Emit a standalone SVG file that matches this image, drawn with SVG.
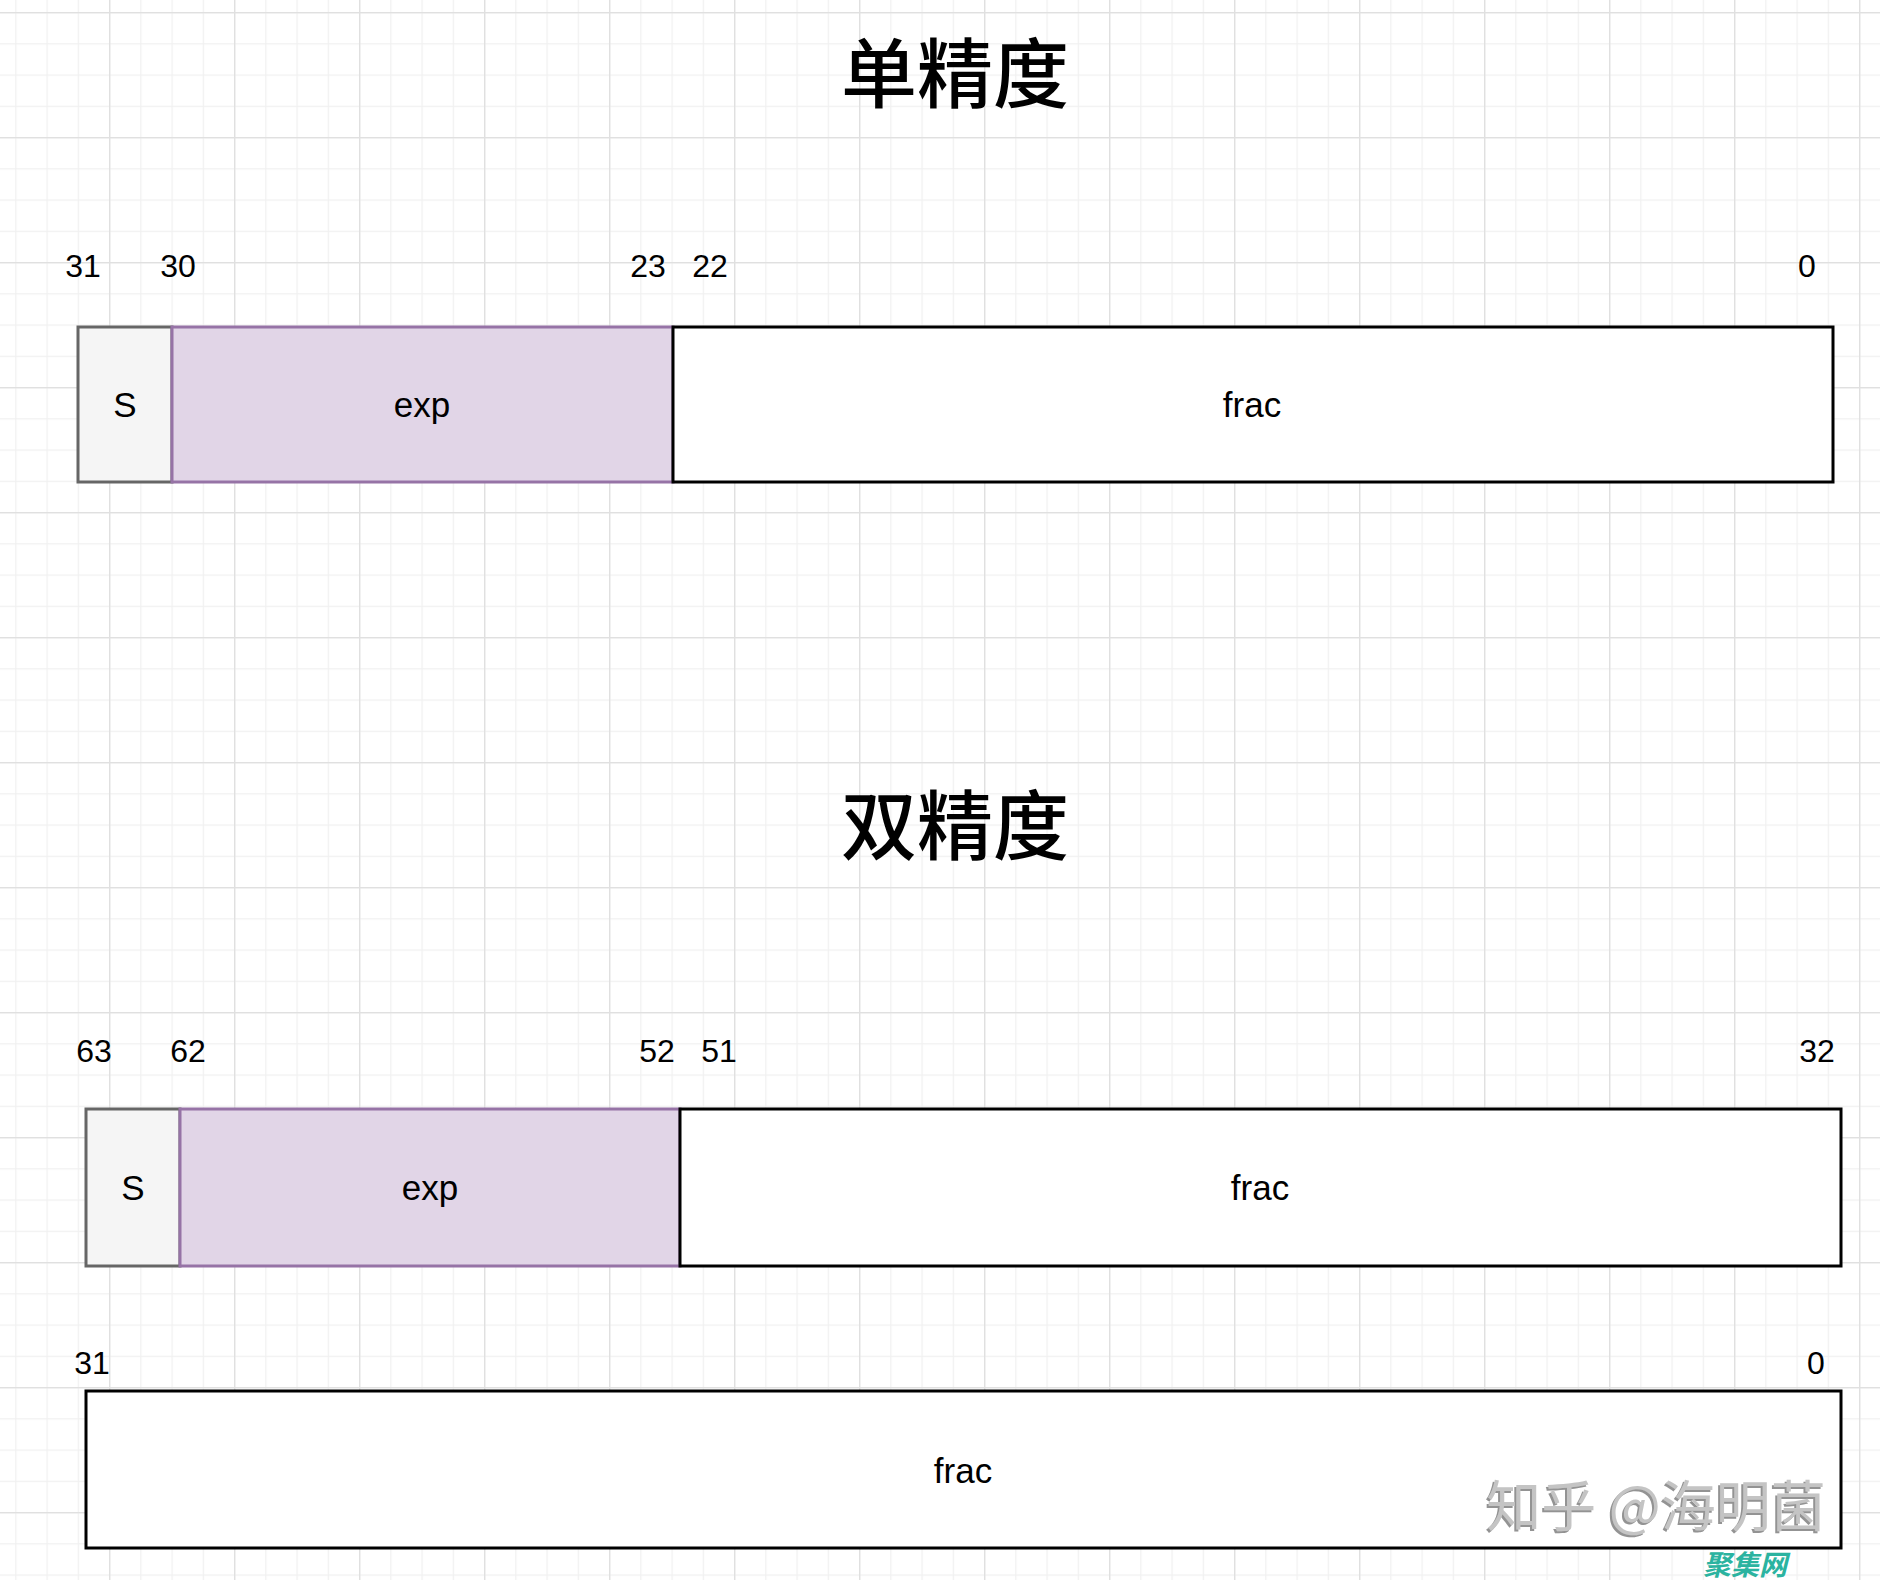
<svg xmlns="http://www.w3.org/2000/svg" width="1880" height="1580" viewBox="0 0 1880 1580">
  <defs>
    <pattern id="minor" patternUnits="userSpaceOnUse" x="109" y="12" width="31.25" height="31.25">
      <rect x="0" y="0" width="1.2" height="31.25" fill="#f0f0f0"/>
      <rect x="0" y="0" width="31.25" height="1.2" fill="#f0f0f0"/>
    </pattern>
    <pattern id="major" patternUnits="userSpaceOnUse" x="109" y="12" width="125" height="125">
      <rect x="0" y="0" width="1.4" height="125" fill="#e0e0e0"/>
      <rect x="0" y="0" width="125" height="1.4" fill="#e0e0e0"/>
    </pattern>
    <filter id="wmShadow" x="-10%" y="-20%" width="130%" height="150%">
      <feDropShadow dx="-2" dy="2" stdDeviation="0.6" flood-color="#777" flood-opacity="0.8"/>
    </filter>
  </defs>
  <style>
    .num { font-family: "Liberation Sans", Arial, sans-serif; font-size: 32px; fill: #000; text-anchor: middle; }
    .lbl { font-family: "Liberation Sans", Arial, sans-serif; font-size: 35px; fill: #000; text-anchor: middle; }
    .title { font-family: "Noto Sans CJK SC", sans-serif; font-size: 76px; font-weight: 500; fill: #000; text-anchor: middle; }
    .sbox { fill: #f5f5f5; stroke: #666666; stroke-width: 3; }
    .ebox { fill: #e1d5e7; stroke: #9673a6; stroke-width: 3; }
    .fbox { fill: #ffffff; stroke: #000000; stroke-width: 3; }
  </style>
  <rect x="0" y="0" width="1880" height="1580" fill="#ffffff"/>
  <rect x="0" y="0" width="1880" height="1580" fill="url(#minor)"/>
  <rect x="0" y="0" width="1880" height="1580" fill="url(#major)"/>

  <g id="title-single"><text class="title" x="955" y="102">单精度</text></g>
  <g id="title-double"><text class="title" x="955" y="854">双精度</text></g>

  <g id="labels-single">
    <text class="num" x="83" y="277">31</text>
    <text class="num" x="178" y="277">30</text>
    <text class="num" x="648" y="277">23</text>
    <text class="num" x="710" y="277">22</text>
    <text class="num" x="1807" y="277">0</text>
  </g>
  <g id="single-s"><rect class="sbox" x="78" y="327" width="94" height="155"/><text class="lbl" x="125" y="417">S</text></g>
  <g id="single-exp"><rect class="ebox" x="172" y="327" width="501" height="155"/><text class="lbl" x="422" y="417">exp</text></g>
  <g id="single-frac"><rect class="fbox" x="673" y="327" width="1160" height="155"/><text class="lbl" x="1252" y="417">frac</text></g>

  <g id="labels-double">
    <text class="num" x="94" y="1062">63</text>
    <text class="num" x="188" y="1062">62</text>
    <text class="num" x="657" y="1062">52</text>
    <text class="num" x="719" y="1062">51</text>
    <text class="num" x="1817" y="1062">32</text>
    <text class="num" x="92" y="1374">31</text>
    <text class="num" x="1816" y="1374">0</text>
  </g>
  <g id="double-s"><rect class="sbox" x="86" y="1109" width="94" height="157"/><text class="lbl" x="133" y="1200">S</text></g>
  <g id="double-exp"><rect class="ebox" x="180" y="1109" width="500" height="157"/><text class="lbl" x="430" y="1200">exp</text></g>
  <g id="double-frac-hi"><rect class="fbox" x="680" y="1109" width="1161" height="157"/><text class="lbl" x="1260" y="1200">frac</text></g>
  <g id="double-frac-lo"><rect class="fbox" x="86" y="1391" width="1755" height="157"/><text class="lbl" x="963" y="1483">frac</text></g>

  <g id="connectors"></g>

  <g id="watermark">
    <text x="1656" y="1526" font-family="'Noto Sans CJK SC', sans-serif" font-size="55" fill="#c4c4c4" text-anchor="middle" filter="url(#wmShadow)">知乎 @海明菌</text>
    <text x="1745" y="1575" font-family="'Noto Sans CJK SC', sans-serif" font-size="28" font-weight="bold" font-style="italic" fill="#2bb3a0" text-anchor="middle">聚集网</text>
  </g>
</svg>
